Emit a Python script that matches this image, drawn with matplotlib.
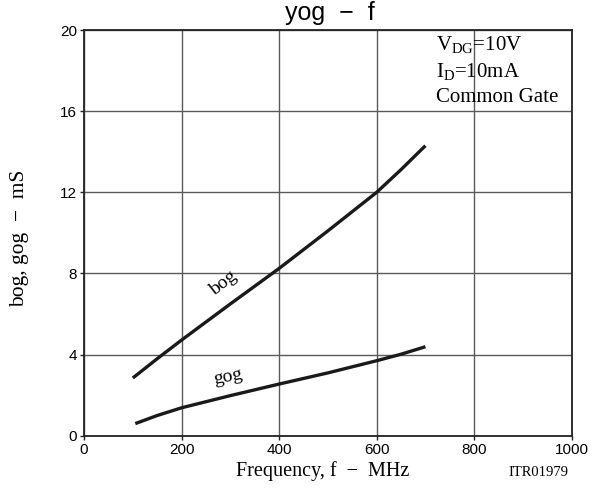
import numpy as np
import matplotlib
matplotlib.use('Agg')
import matplotlib.pyplot as plt

# values
freq = [100, 150, 200, 300, 400, 500, 600, 650, 700]
bog = [2.85, 3.8, 4.72, 6.5, 8.25, 10.1, 12.0, 13.12, 14.3]
gog_freq = [105, 150, 200, 300, 400, 500, 600, 650, 700]
gog = [0.6, 1.0, 1.38, 1.98, 2.55, 3.1, 3.7, 4.02, 4.39]

xticks = [0, 200, 400, 600, 800, 1000]
yticks = [0, 4, 8, 12, 16, 20]

plt.rcParams['mathtext.fontset'] = 'custom'
plt.rcParams['mathtext.rm'] = 'Liberation Serif'
serif = 'Liberation Serif'
sans = 'Liberation Sans'

fig = plt.figure(figsize=(6.05, 4.88), dpi=100)
ax = fig.add_axes([0.139, 0.107, 0.806, 0.8315])

ax.plot(freq, bog, color='#1a1a1a', lw=2.4, solid_capstyle='butt')
ax.plot(gog_freq, gog, color='#1a1a1a', lw=2.4, solid_capstyle='butt')

ax.set_xlim(0, 1000)
ax.set_ylim(0, 20)
ax.set_xticks(xticks)
ax.set_yticks(yticks)
ax.grid(True, color='#5a5a5a', lw=1.0)
ax.set_axisbelow(True)
for s in ax.spines.values():
    s.set_color('#222222')
    s.set_linewidth(1.3)
ax.tick_params(length=3, width=1, color='#222222', labelsize=11, pad=2)
for lab in ax.get_xticklabels() + ax.get_yticklabels():
    lab.set_fontfamily(sans)

# curve labels
ax.text(285, 7.5, 'bog', rotation=38, family=serif, fontsize=14,
        ha='center', va='center')
ax.text(295, 2.9, 'gog', rotation=11, family=serif, fontsize=14,
        ha='center', va='center')

# condition box text
ax.text(722, 19.0, r'$\mathrm{V_{DG}}$=10V', family=serif, fontsize=15,
        ha='left', va='baseline')
ax.text(722, 17.7, r'$\mathrm{I_{D}}$=10mA', family=serif, fontsize=15,
        ha='left', va='baseline')
ax.text(722, 16.45, 'Common Gate', family=serif, fontsize=15,
        ha='left', va='baseline')

fig.text(0.545, 0.959, 'yog  \u2212  f', family=sans, fontsize=18,
         ha='center', va='baseline')
fig.text(0.534, 0.024, 'Frequency, f  \u2212  MHz', family=serif, fontsize=14.5,
         ha='center', va='baseline')
fig.text(0.89, 0.024, 'ITR01979', family=serif, fontsize=10.5,
         ha='center', va='baseline')
fig.text(0.033, 0.512, 'bog, gog  \u2212  mS', family=serif, fontsize=15.5,
         ha='center', va='center', rotation=90)

fig.savefig('out.png', dpi=100)
